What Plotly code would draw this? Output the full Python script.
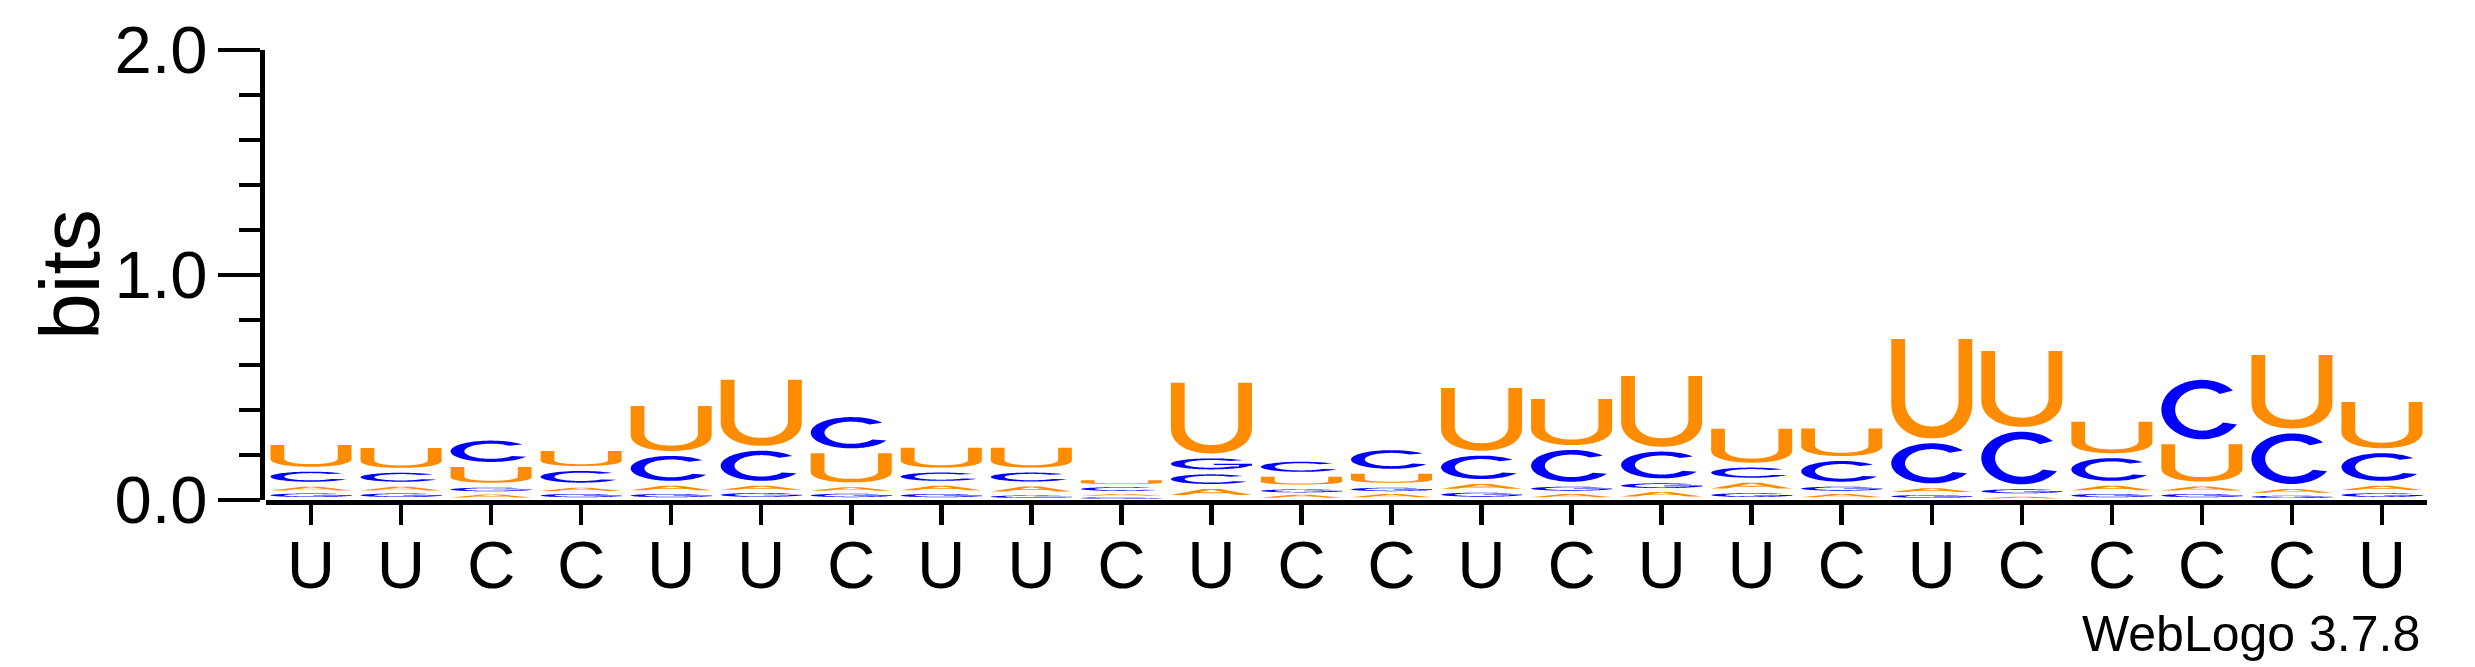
import numpy as np
import plotly.graph_objects as go

# ---------------- data (bits per letter, per position) ----------------
labels = ["U", "U", "C", "C", "U", "U", "C", "U", "U", "C", "U", "C",
          "C", "U", "C", "U", "U", "C", "U", "C", "C", "C", "C", "U"]
positions = list(range(1, 25))

u_bits = [0.118, 0.110, 0.092, 0.089, 0.222, 0.316, 0.151, 0.110, 0.110, 0.031, 0.336, 0.056,
          0.062, 0.301, 0.227, 0.336, 0.173, 0.144, 0.464, 0.359, 0.162, 0.188, 0.348, 0.228]
c_bits = [0.067, 0.062, 0.117, 0.074, 0.133, 0.156, 0.161, 0.059, 0.062, 0.030, 0.065, 0.067,
          0.105, 0.126, 0.163, 0.141, 0.067, 0.114, 0.200, 0.256, 0.123, 0.286, 0.247, 0.145]
a_bits = [0.030, 0.030, 0.025, 0.028, 0.036, 0.032, 0.0285, 0.036, 0.040, 0.015, 0.049, 0.023,
          0.027, 0.0385, 0.0267, 0.0356, 0.047, 0.0267, 0.030, 0.015, 0.036, 0.033, 0.030, 0.033]
g_bits = [0.029, 0.029, 0.030, 0.027, 0.027, 0.031, 0.028, 0.027, 0.020, 0.012, 0.071, 0.024,
          0.0275, 0.0326, 0.0326, 0.0385, 0.030, 0.0326, 0.022, 0.0326, 0.027, 0.027, 0.019, 0.030]

y_ticks = [0, 1, 2]
y_tick_labels = ["0.0", "1.0", "2.0"]

COLORS = {"U": "#FF8C00", "A": "#FF8C00", "C": "#0000FF", "G": "#0000FF"}
FONT = "Liberation Sans, Arial, Helvetica, sans-serif"


# ---------------- glyph outlines in a unit box ----------------
def sarc(cx, cy, rx, ry, a0, a1, n=60, p=2.0):
    t = np.radians(np.linspace(a0, a1, n))
    c, s = np.cos(t), np.sin(t)
    x = cx + rx * np.sign(c) * np.abs(c) ** (2.0 / p)
    y = cy + ry * np.sign(s) * np.abs(s) ** (2.0 / p)
    return list(zip(x, y))


def glyph_U():
    t, b, ho, hi = 0.17, 0.12, 0.36, 0.27
    pts = [(0.0, 1.0)]
    pts += sarc(0.5, ho, 0.5, ho, 180, 360, p=2.2)
    pts += [(1.0, 1.0), (1.0 - t, 1.0)]
    pts += sarc(0.5, b + hi, 0.5 - t, hi, 360, 180, p=2.2)
    pts += [(t, 1.0)]
    return [pts]


def glyph_C():
    pts = sarc(0.5, 0.5, 0.5, 0.5, 40, 330, n=90)
    pts += sarc(0.5, 0.5, 0.33, 0.355, 322, 48, n=90)
    return [pts]


def glyph_A():
    outer = [(0, 0), (0.39, 1), (0.61, 1), (1, 0), (0.81, 0), (0.70, 0.29), (0.30, 0.29), (0.19, 0)]
    hole = [(0.35, 0.45), (0.65, 0.45), (0.5, 0.86)]
    return [outer, hole]


def glyph_G():
    pts = sarc(0.5, 0.5, 0.5, 0.5, 40, 340, n=90)
    pts += [(1.0, 0.33), (1.0, 0.52), (0.53, 0.52), (0.53, 0.40), (0.84, 0.40), (0.84, 0.27)]
    pts += sarc(0.5, 0.5, 0.33, 0.355, 320, 48, n=90)
    return [pts]


GLYPHS = {"U": glyph_U(), "C": glyph_C(), "A": glyph_A(), "G": glyph_G()}

LETTER_W = 0.90      # fraction of a position occupied by a glyph
PAD = 0.022          # blank space (bits) under each glyph, as in WebLogo

shapes = []
for i, pos in enumerate(positions):
    col = {"U": u_bits[i], "C": c_bits[i], "A": a_bits[i], "G": g_bits[i]}
    order = sorted(col.items(), key=lambda kv: kv[1])  # smallest at bottom
    y0 = 0.0
    for letter, h in order:
        pad = min(PAD, 0.45 * h)
        ink = h - pad
        parts = []
        for poly in GLYPHS[letter]:
            coords = [(pos - LETTER_W / 2 + ux * LETTER_W, y0 + pad + uy * ink) for ux, uy in poly]
            parts.append("M " + " L ".join(f"{x:.4f},{y:.5f}" for x, y in coords) + " Z")
        shapes.append(dict(type="path", path=" ".join(parts), xref="x", yref="y",
                           fillcolor=COLORS[letter], line=dict(width=0), layer="above"))
        y0 += h

fig = go.Figure()
# invisible trace to instantiate axes
fig.add_trace(go.Scatter(x=positions, y=[0] * len(positions), mode="markers",
                         marker=dict(opacity=0), hoverinfo="skip", showlegend=False))

W, H = 2475, 667
ML, MR, MT, MB = 262, 48, 50, 167
plot_w = W - ML - MR

fig.update_layout(
    width=W, height=H,
    margin=dict(l=ML, r=MR, t=MT, b=MB, pad=0, autoexpand=False),
    paper_bgcolor="white", plot_bgcolor="white",
    shapes=shapes,
    font=dict(family=FONT, color="black"),
    xaxis=dict(
        domain=[4 / plot_w, 1], range=[0.5, 24.5], automargin=False,
        tickmode="array", tickvals=positions, ticktext=labels,
        showline=True, linecolor="black", linewidth=4.5,
        ticks="outside", ticklen=20, tickwidth=4.5, tickcolor="black",
        tickfont=dict(size=67, family=FONT, color="black"),
        ticklabelstandoff=-17,
        showgrid=False, zeroline=False,
    ),
    yaxis=dict(
        anchor="free", position=0, range=[0, 2], automargin=False,
        tickmode="array", tickvals=y_ticks, ticktext=y_tick_labels,
        showline=True, linecolor="black", linewidth=4.5,
        ticks="outside", ticklen=42, tickwidth=4.5, tickcolor="black",
        minor=dict(dtick=0.2, ticks="outside", ticklen=21, tickwidth=4.5, tickcolor="black"),
        tickfont=dict(size=67, family=FONT, color="black"),
        ticklabelstandoff=-3,
        showgrid=False, zeroline=False,
    ),
    annotations=[
        dict(text="bits", xref="paper", yref="paper", x=(70 - ML) / plot_w, y=0.5,
             textangle=-90, showarrow=False, xanchor="center", yanchor="middle",
             font=dict(size=84, family=FONT, color="black")),
        dict(text="WebLogo 3.7.8", xref="paper", yref="paper",
             x=(2422 - ML) / plot_w, y=(500 - 634) / 450,
             showarrow=False, xanchor="right", yanchor="middle",
             font=dict(size=50, family=FONT, color="black")),
    ],
)

fig.write_html("out.html",
               config={"displayModeBar": False, "staticPlot": True},
               post_script="document.body.style.margin='0';document.body.style.overflow='hidden';")
